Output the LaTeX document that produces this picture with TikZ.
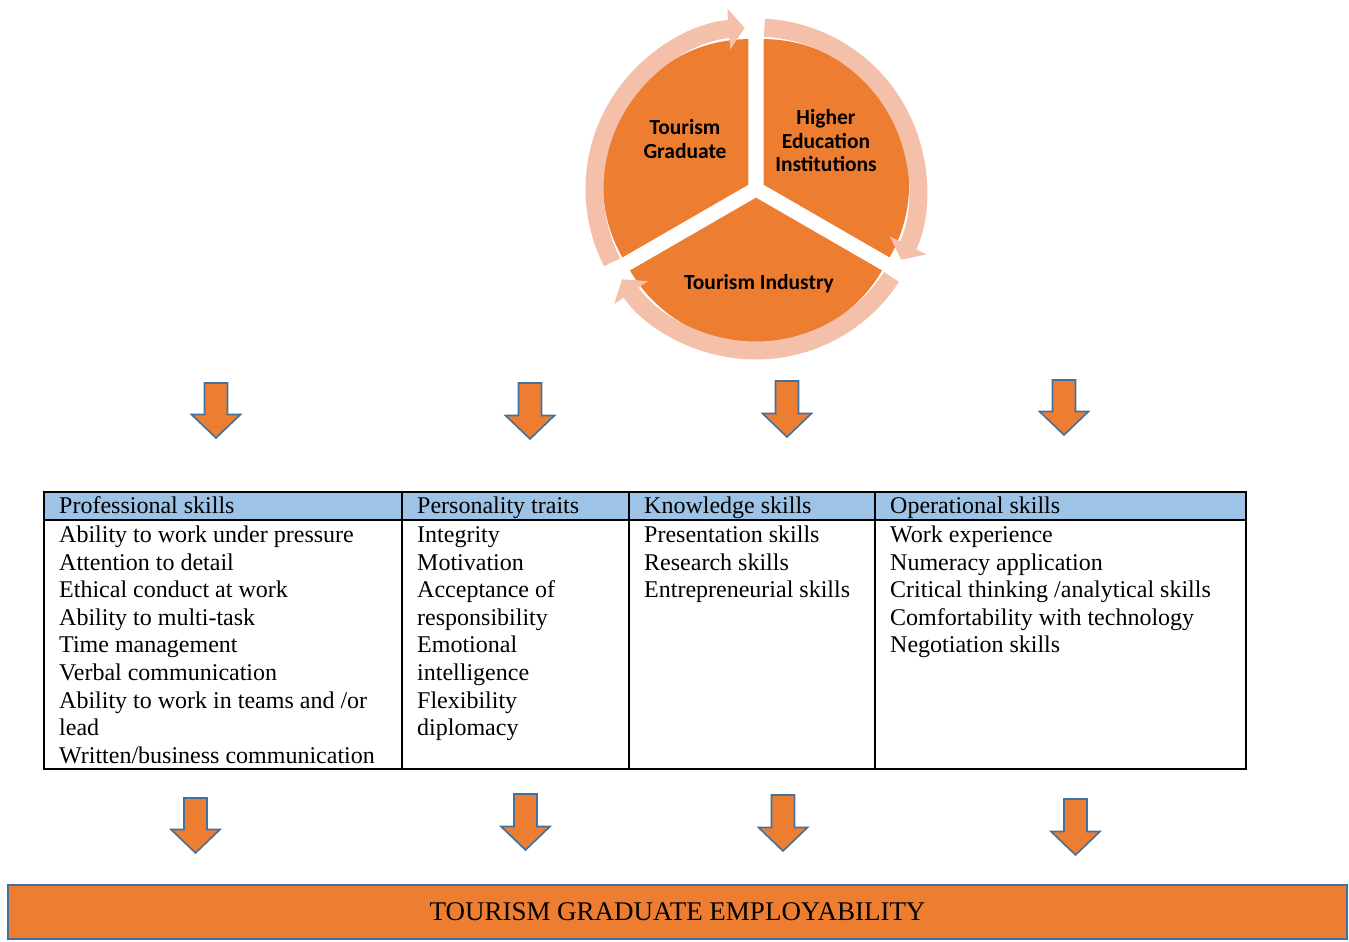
\documentclass[tikz,border=0pt]{standalone}
\usepackage{fontspec}
\setmainfont{Liberation Serif}
\newfontfamily\calibri{Carlito}
\usetikzlibrary{arrows.meta,calc}
\definecolor{segorange}{HTML}{ED7D31}
\definecolor{ringrose}{HTML}{F5C0AA}
\definecolor{arrowblue}{HTML}{41719C}
\definecolor{headblue}{HTML}{9DC3E6}
\tikzset{
	segment/.style={fill=segorange},
	cyclearc/.style={draw=ringrose, line width=18pt, -{Triangle[width=40pt,length=16pt]}},
	segtext/.style={font=\calibri\bfseries\fontsize{21.5}{23.5}\selectfont, align=center},
	blockarrow/.style={draw=arrowblue, fill=segorange, line width=1.6pt, line join=miter},
	headcell/.style={anchor=base west, inner sep=0pt, font=\fontsize{24}{27.6}\selectfont},
	bodycell/.style={anchor=base west, inner sep=0pt, align=left, font=\fontsize{24}{27.6}\selectfont},
	gridline/.style={line width=1.6pt}
}
\def\downblock(#1,#2,#3){\draw[blockarrow] (#1-11.5,#2) -- (#1+11.5,#2) -- (#1+11.5,#3+23.5) -- (#1+24.5,#3+23.5) -- (#1,#3) -- (#1-24.5,#3+23.5) -- (#1-11.5,#3+23.5) -- cycle;}

\begin{document}
\begin{tikzpicture}[x=1pt,y=1pt]
	%%%%% START %%%%%
	\useasboundingbox (0,0) rectangle (1349,942);
	
	% cycle
	\coordinate (hub) at (756,753);
	\fill[segment] ($(hub)+(150:8.7pt)$) -- ++(90:145.5pt) arc (90:210:145.5pt) -- cycle;
	\fill[segment] ($(hub)+(30:8.7pt)$) -- ++(-30:145.5pt) arc (-30:90:145.5pt) -- cycle;
	\fill[segment] ($(hub)+(270:8.7pt)$) -- ++(210:145.5pt) arc (210:330:145.5pt) -- cycle;
	
	\draw[cyclearc] ($(hub)+(207:161.5pt)$) arc (207:94:161.5pt);
	\draw[cyclearc] ($(hub)+(87:161.5pt)$) arc (87:-26:161.5pt);
	\draw[cyclearc] ($(hub)+(-33:161.5pt)$) arc (-33:-146:161.5pt);
	
	\node[segtext] (grad) at (685,803) {Tourism\\Graduate};
	\node[segtext] (hei) at (826,801) {Higher\\Education\\Institutions};
	\node[segtext] (ind) at (759,658) {Tourism Industry};
	
	% arrows down to the table
	\downblock(216,559,504)
	\downblock(530,559,503)
	\downblock(787,561,505)
	\downblock(1064,562,507)
	
	% table
	\fill[headblue] (44,422) rectangle (1246,450);
	\draw[gridline] (44,173) rectangle (1246,450);
	\draw[gridline] (44,422) -- (1246,422);
	\draw[gridline] (402,173) -- (402,450);
	\draw[gridline] (629,173) -- (629,450);
	\draw[gridline] (875,173) -- (875,450);
	
	\node[headcell] (prohead) at (59,428.5) {Professional skills};
	\node[headcell] (perhead) at (417,428.5) {Personality traits};
	\node[headcell] (knohead) at (644,428.5) {Knowledge skills};
	\node[headcell] (opehead) at (890,428.5) {Operational skills};
	
	% base = last line of each cell
	\node[bodycell] (probody) at (59,178.7) {Ability to work under pressure\\Attention to detail\\Ethical conduct at work\\Ability to multi-task\\Time management\\Verbal communication\\Ability to work in teams and /or\\lead\\Written/business communication};
	\node[bodycell] (perbody) at (417,206.3) {Integrity\\Motivation\\Acceptance of\\responsibility\\Emotional\\intelligence\\Flexibility\\diplomacy};
	\node[bodycell] (knobody) at (644,344.3) {Presentation skills\\Research skills\\Entrepreneurial skills};
	\node[bodycell] (opebody) at (890,289.1) {Work experience\\Numeracy application\\Critical thinking /analytical skills\\Comfortability with technology\\Negotiation skills};
	
	% arrows down to employability
	\downblock(195.5,144,89)
	\downblock(525.5,148,92)
	\downblock(783,147,91)
	\downblock(1075.5,143,87)
	
	\node[draw=arrowblue, fill=segorange, line width=2.5pt, minimum width=1339pt, minimum height=54pt, inner sep=0pt, font=\fontsize{27}{30}\selectfont] (employ) at (677.5,30) {TOURISM GRADUATE EMPLOYABILITY};
	
	%%%%% END %%%%%
\end{tikzpicture}
\end{document}
